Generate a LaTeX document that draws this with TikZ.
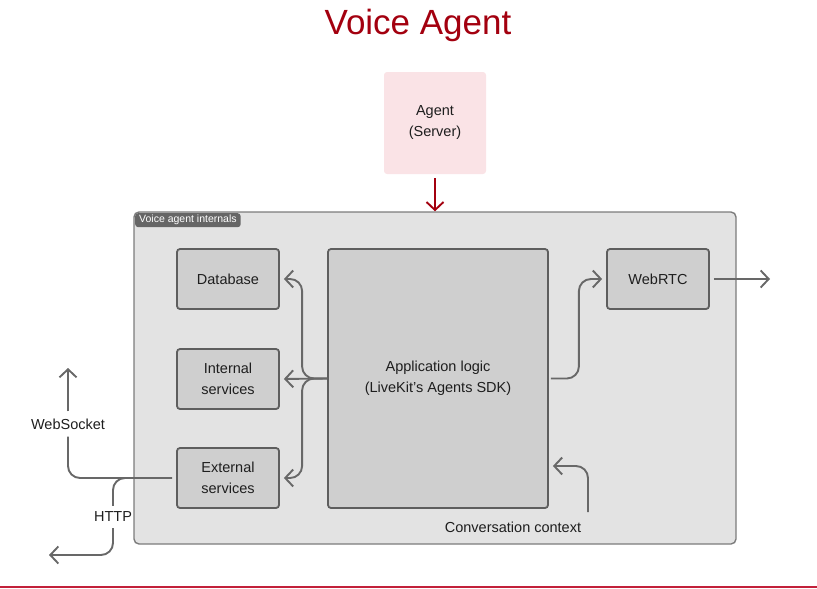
\documentclass[tikz,border=0pt]{standalone}
\usepackage{fontspec}
\setmainfont{Liberation Sans}
\usetikzlibrary{arrows.meta,calc}
\definecolor{titlered}{HTML}{A3000F}
\definecolor{agentpink}{HTML}{FAE3E6}
\definecolor{contfill}{HTML}{E3E3E3}
\definecolor{contline}{HTML}{7C7C7C}
\definecolor{boxfill}{HTML}{CFCFCF}
\definecolor{boxline}{HTML}{5E5E5E}
\definecolor{connc}{HTML}{686868}
\definecolor{tagfill}{HTML}{666666}
\definecolor{txt}{HTML}{1E1E1E}
\definecolor{bottomred}{HTML}{C2203A}
\tikzset{
  comp/.style={draw=boxline, fill=boxfill, line width=1.8pt, rounded corners=3pt,
    minimum width=102pt, minimum height=60pt, inner sep=0pt, align=center,
    font=\fontsize{14.5}{21}\selectfont, text=txt},
  conn/.style={draw=connc, line width=1.9pt,
    -{Straight Barb[length=8pt,width=17pt,line width=1.9pt]}, rounded corners=12pt},
  plain/.style={draw=connc, line width=1.9pt, rounded corners=12pt},
  lbl/.style={font=\fontsize{14.5}{21}\selectfont, text=txt, inner sep=0pt},
}
\begin{document}
\begin{tikzpicture}[x=1pt,y=-1pt]
\useasboundingbox (0,0) rectangle (817,589);
% title
\node[font=\fontsize{35}{40}\selectfont, text=titlered] (title) at (418,25) {Voice Agent};
% agent
\node[fill=agentpink, rounded corners=3pt, minimum width=102pt, minimum height=102pt,
  align=center, font=\fontsize{14.5}{21}\selectfont, text=txt] (agent) at (435,123) {Agent\\(Server)};
% container
\node[draw=contline, fill=contfill, line width=1.4pt, rounded corners=5pt,
  minimum width=602pt, minimum height=332pt, inner sep=0pt] (cont) at (435,378) {};
\node[fill=tagfill, text=white, rounded corners=3pt, anchor=north west,
  font=\fontsize{10.5}{12}\selectfont, minimum height=14pt, inner xsep=4pt, inner ysep=0pt]
  (tag) at (135,213) {Voice agent internals};
\draw[draw=titlered, line width=1.9pt, -{Straight Barb[length=8pt,width=17pt,line width=1.9pt]}]
  ([yshift=-4pt]agent.south) -- (cont.north);
% components
\node[comp] (db) at (228,279) {Database};
\node[comp] (int) at (228,379) {Internal\\services};
\node[comp] (ext) at (228,478) {External\\services};
\node[comp, minimum width=220pt, minimum height=259pt] (app) at (438,378.5)
  {Application logic\\(LiveKit's Agents SDK)};
\node[comp] (rtc) at (658,279) {WebRTC};
% app -> left services
\draw[conn, shorten >=4pt] (app.west) -- (int.east);
\draw[conn, shorten >=4pt] (app.west) -- ++(-25,0) |- (db.east);
\draw[conn, shorten >=4pt] (app.west) -- ++(-25,0) |- (ext.east);
% app -> webrtc
\draw[conn, shorten >=4pt, shorten <=2pt] (app.east) -- ++(30,0) |- (rtc.west);
\coordinate (rtcout) at (770,279);
\draw[conn, shorten <=4pt] (rtc.east) -- (rtcout);
% conversation context
\node[lbl] (cc) at (513,527) {Conversation context};
\coordinate (ccs) at (588,512);
\draw[conn, shorten >=4pt] (ccs) |- (app.east |- 0,466);
% websocket / http
\node[lbl, inner ysep=7pt] (ws) at (68,424) {WebSocket};
\coordinate (wsend) at (68,368);
\draw[plain, shorten <=4pt] (ext.west) -| (ws.south);
\draw[conn] (ws.north) -- (wsend);
\node[lbl, inner ysep=6pt] (http) at (113,517) {HTTP};
\coordinate (hb) at (130,478);
\draw[plain] (hb) -| (http.north);
\coordinate (httpend) at (49,555);
\draw[conn] (http.south) |- (httpend);
% bottom line
\fill[bottomred] (0,586) rectangle (817,588);
\end{tikzpicture}
\end{document}
